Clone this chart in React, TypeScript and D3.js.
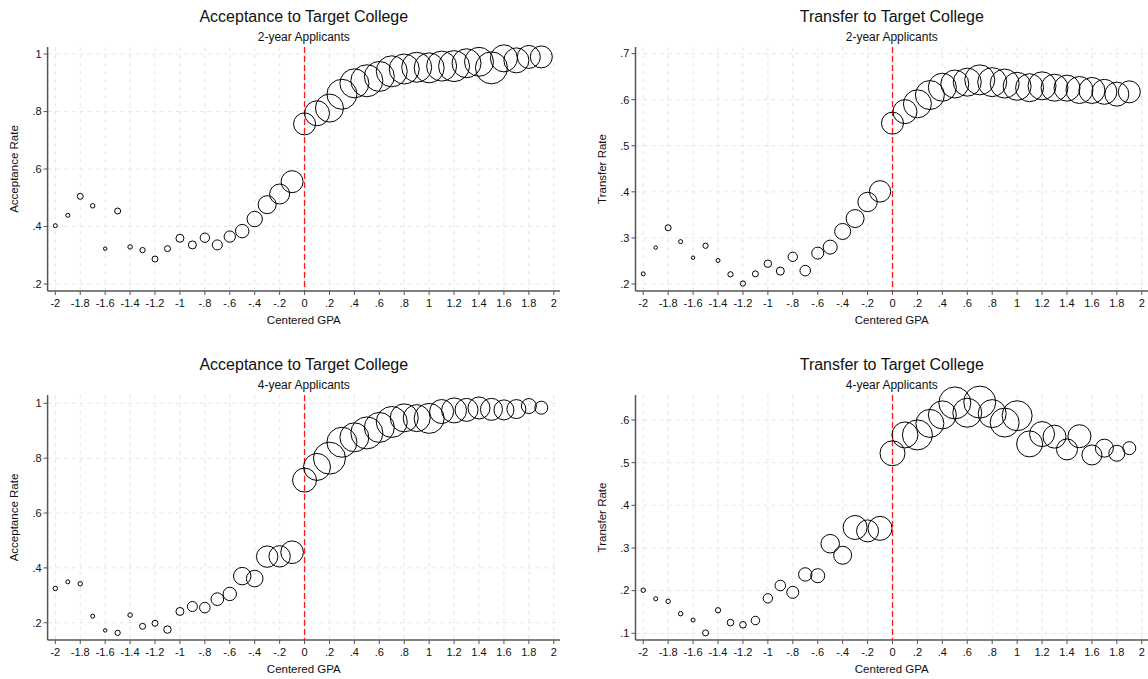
import React from "react";
import * as d3 from "d3";

const gpa = [-2, -1.9, -1.8, -1.7, -1.6, -1.5, -1.4, -1.3, -1.2, -1.1, -1, -0.9, -0.8, -0.7, -0.6, -0.5, -0.4, -0.3, -0.2, -0.1,
  0, 0.1, 0.2, 0.3, 0.4, 0.5, 0.6, 0.7, 0.8, 0.9, 1, 1.1, 1.2, 1.3, 1.4, 1.5, 1.6, 1.7, 1.8, 1.9];

const xTicks = [-2, -1.8, -1.6, -1.4, -1.2, -1, -0.8, -0.6, -0.4, -0.2, 0, 0.2, 0.4, 0.6, 0.8, 1, 1.2, 1.4, 1.6, 1.8, 2];

// Acceptance, 2-year applicants
const accept2Rate = [0.403, 0.439, 0.505, 0.472, 0.323, 0.454, 0.329, 0.318, 0.287, 0.323, 0.359, 0.336, 0.361, 0.336, 0.365, 0.384, 0.426, 0.476, 0.513, 0.556,
  0.757, 0.794, 0.812, 0.860, 0.898, 0.907, 0.922, 0.940, 0.948, 0.954, 0.952, 0.958, 0.958, 0.968, 0.973, 0.952, 0.985, 0.978, 0.990, 0.990];
const accept2Weight = [4, 4, 9, 5, 3, 9, 5, 7, 9, 9, 16, 16, 22, 25, 32, 45, 59, 81, 100, 121,
  121, 156, 196, 225, 210, 256, 225, 240, 225, 225, 225, 225, 240, 210, 210, 256, 182, 156, 132, 121];

// Transfer, 2-year applicants
const transfer2Rate = [0.222, 0.279, 0.322, 0.292, 0.257, 0.283, 0.251, 0.221, 0.201, 0.222, 0.244, 0.228, 0.259, 0.229, 0.267, 0.280, 0.314, 0.342, 0.378, 0.401,
  0.549, 0.574, 0.591, 0.610, 0.627, 0.634, 0.638, 0.643, 0.638, 0.635, 0.629, 0.626, 0.630, 0.626, 0.625, 0.621, 0.620, 0.617, 0.612, 0.617];
const transfer2Weight = [4, 3, 9, 4, 3, 7, 4, 7, 7, 9, 14, 16, 22, 28, 36, 49, 64, 81, 94, 114,
  121, 144, 196, 210, 196, 196, 196, 225, 210, 210, 196, 196, 196, 182, 169, 182, 169, 156, 144, 121];

// Acceptance, 4-year applicants
const accept4Rate = [0.325, 0.349, 0.342, 0.224, 0.172, 0.163, 0.228, 0.187, 0.198, 0.175, 0.241, 0.259, 0.255, 0.286, 0.305, 0.370, 0.361, 0.441, 0.442, 0.457,
  0.720, 0.768, 0.800, 0.858, 0.876, 0.892, 0.912, 0.932, 0.947, 0.946, 0.945, 0.970, 0.974, 0.976, 0.983, 0.978, 0.976, 0.979, 0.990, 0.984];
const accept4Weight = [5, 4, 5, 4, 3, 7, 5, 9, 9, 14, 16, 25, 28, 40, 45, 76, 69, 114, 114, 128,
  144, 182, 256, 225, 210, 256, 225, 240, 196, 182, 225, 144, 156, 132, 121, 121, 100, 90, 56, 42];

// Transfer, 4-year applicants
const transfer4Rate = [0.201, 0.181, 0.175, 0.146, 0.131, 0.101, 0.154, 0.125, 0.120, 0.130, 0.182, 0.212, 0.196, 0.238, 0.235, 0.310, 0.283, 0.348, 0.340, 0.346,
  0.522, 0.565, 0.565, 0.592, 0.612, 0.640, 0.617, 0.642, 0.615, 0.594, 0.610, 0.544, 0.567, 0.561, 0.531, 0.562, 0.518, 0.534, 0.522, 0.534];
const transfer4Weight = [5, 4, 5, 5, 4, 9, 7, 11, 11, 18, 22, 28, 36, 45, 49, 86, 81, 144, 121, 144,
  156, 169, 225, 196, 196, 256, 210, 256, 196, 210, 225, 169, 156, 132, 110, 132, 100, 81, 64, 42];

const acceptTicks = [0.2, 0.4, 0.6, 0.8, 1];
const transfer2Ticks = [0.2, 0.3, 0.4, 0.5, 0.6, 0.7];
const transfer4Ticks = [0.1, 0.2, 0.3, 0.4, 0.5, 0.6];

const fmt = (v: number) => {
  const s = String(+v.toFixed(2));
  return s.replace(/^0\./, ".").replace(/^-0\./, "-.");
};

type PanelProps = {
  title: string;
  subtitle: string;
  yTitle: string;
  rates: number[];
  weights: number[];
  yTicks: number[];
  yDomain: [number, number];
  x0: number;
  x1: number;
  y0: number;
  y1: number;
};

const FONT = "'Liberation Sans', Arial, Helvetica, sans-serif";

function Panel(p: PanelProps) {
  const x = d3.scaleLinear().domain([-2.062, 2.05]).range([p.x0, p.x1]);
  const y = d3.scaleLinear().domain(p.yDomain).range([p.y1, p.y0]);
  const r = d3.scaleSqrt().domain([0, 100]).range([0, 10]);
  const cx = (p.x0 + p.x1) / 2;
  const axisColor = "#555";
  return (
    <g>
      <text x={cx} y={p.y0 - 25} textAnchor="middle" fontSize={16} fill="#111" fontFamily={FONT}>{p.title}</text>
      <text x={cx} y={p.y0 - 6} textAnchor="middle" fontSize={12} fill="#111" fontFamily={FONT}>{p.subtitle}</text>
      {p.yTicks.map((t) => (
        <line key={"gy" + t} x1={p.x0} x2={p.x1} y1={y(t)} y2={y(t)} stroke="#e6e6e6" strokeDasharray="4,4" strokeWidth={1} />
      ))}
      {xTicks.map((t) => (
        <line key={"gx" + t} x1={x(t)} x2={x(t)} y1={p.y0} y2={p.y1} stroke="#e6e6e6" strokeDasharray="4,4" strokeWidth={1} />
      ))}
      <line x1={x(0)} x2={x(0)} y1={p.y0} y2={p.y1} stroke="#ff1a1a" strokeWidth={1.3} strokeDasharray="6,3" />
      {gpa.map((g, i) => (
        <circle key={"c" + i} cx={x(g)} cy={y(p.rates[i])} r={r(p.weights[i])} fill="none" stroke="#000" strokeWidth={1} />
      ))}
      <line x1={p.x0} x2={p.x0} y1={p.y0} y2={p.y1} stroke={axisColor} strokeWidth={1.5} />
      <line x1={p.x0} x2={p.x1} y1={p.y1} y2={p.y1} stroke={axisColor} strokeWidth={1.5} />
      {p.yTicks.map((t) => (
        <g key={"ty" + t}>
          <line x1={p.x0 - 4} x2={p.x0} y1={y(t)} y2={y(t)} stroke={axisColor} strokeWidth={1} />
          <text x={p.x0 - 6} y={y(t)} dy="0.35em" textAnchor="end" fontSize={11} fill="#111" fontFamily={FONT}>{fmt(t)}</text>
        </g>
      ))}
      {xTicks.map((t) => (
        <g key={"tx" + t}>
          <line x1={x(t)} x2={x(t)} y1={p.y1} y2={p.y1 + 4} stroke={axisColor} strokeWidth={1} />
          <text x={x(t)} y={p.y1 + 12} dy="0.35em" textAnchor="middle" fontSize={11} fill="#111" fontFamily={FONT}>{fmt(t)}</text>
        </g>
      ))}
      <text x={cx} y={p.y1 + 29} dy="0.35em" textAnchor="middle" fontSize={11.5} fill="#111" fontFamily={FONT}>Centered GPA</text>
      <text transform={`translate(${p.x0 - 34},${(p.y0 + p.y1) / 2}) rotate(-90)`} dy="0.35em" textAnchor="middle" fontSize={11.5} fill="#111" fontFamily={FONT}>{p.yTitle}</text>
    </g>
  );
}

export default function App() {
  return (
    <svg width={1148} height={679} style={{ position: "absolute", left: 0, top: 0, background: "#fff" }}>
      <rect x={0} y={0} width={1148} height={679} fill="#fff" />
      <Panel title="Acceptance to Target College" subtitle="2-year Applicants" yTitle="Acceptance Rate"
        rates={accept2Rate} weights={accept2Weight} yTicks={acceptTicks} yDomain={[0.1757, 1.0245]}
        x0={47.6} x1={560} y0={47} y1={291} />
      <Panel title="Transfer to Target College" subtitle="2-year Applicants" yTitle="Transfer Rate"
        rates={transfer2Rate} weights={transfer2Weight} yTicks={transfer2Ticks} yDomain={[0.1848, 0.7143]}
        x0={635.5} x1={1148} y0={47} y1={291} />
      <Panel title="Acceptance to Target College" subtitle="4-year Applicants" yTitle="Acceptance Rate"
        rates={accept4Rate} weights={accept4Weight} yTicks={acceptTicks} yDomain={[0.137, 1.0303]}
        x0={47.6} x1={560} y0={395} y1={640} />
      <Panel title="Transfer to Target College" subtitle="4-year Applicants" yTitle="Transfer Rate"
        rates={transfer4Rate} weights={transfer4Weight} yTicks={transfer4Ticks} yDomain={[0.0843, 0.6586]}
        x0={635.5} x1={1148} y0={395} y1={640} />
    </svg>
  );
}
